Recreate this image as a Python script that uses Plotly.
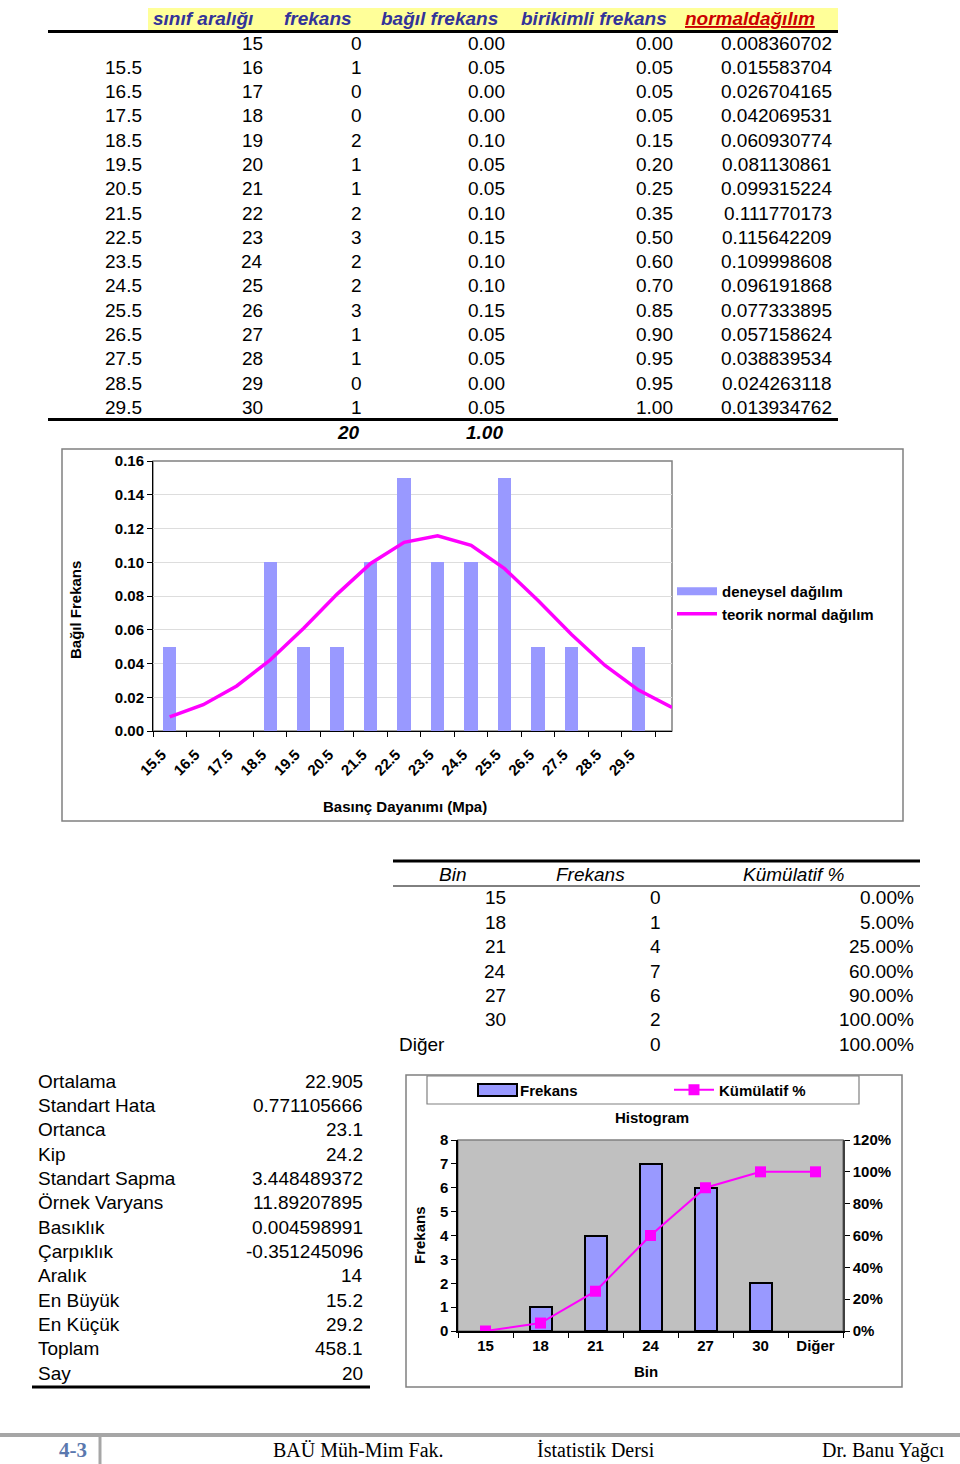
import plotly.graph_objects as go

# ---------------- data ----------------
sinif_araligi = ["", "15.5", "16.5", "17.5", "18.5", "19.5", "20.5", "21.5", "22.5",
                 "23.5", "24.5", "25.5", "26.5", "27.5", "28.5", "29.5"]
sinir = [15, 16, 17, 18, 19, 20, 21, 22, 23, 24, 25, 26, 27, 28, 29, 30]
frekans = [0, 1, 0, 0, 2, 1, 1, 2, 3, 2, 2, 3, 1, 1, 0, 1]
bagil_frekans = [0.00, 0.05, 0.00, 0.00, 0.10, 0.05, 0.05, 0.10, 0.15, 0.10, 0.10,
                 0.15, 0.05, 0.05, 0.00, 0.05]
birikimli_frekans = [0.00, 0.05, 0.05, 0.05, 0.15, 0.20, 0.25, 0.35, 0.50, 0.60, 0.70,
                     0.85, 0.90, 0.95, 0.95, 1.00]
normal_dagilim = [0.008360702, 0.015583704, 0.026704165, 0.042069531, 0.060930774,
                  0.081130861, 0.099315224, 0.111770173, 0.115642209, 0.109998608,
                  0.096191868, 0.077333895, 0.057158624, 0.038839534, 0.024263118,
                  0.013934762]
toplam_frekans = "20"
toplam_bagil = "1.00"

chart1_categories = sinif_araligi[1:] + [" "]

bins = ["15", "18", "21", "24", "27", "30", "Diğer"]
bin_frekans = [0, 1, 4, 7, 6, 2, 0]
kumulatif = [0.00, 0.05, 0.25, 0.60, 0.90, 1.00, 1.00]

stat_labels = ["Ortalama", "Standart Hata", "Ortanca", "Kip", "Standart Sapma",
               "Örnek Varyans", "Basıklık", "Çarpıklık", "Aralık", "En Büyük",
               "En Küçük", "Toplam", "Say"]
stat_values = ["22.905", "0.771105666", "23.1", "24.2", "3.448489372", "11.89207895",
               "0.004598991", "-0.351245096", "14", "15.2", "29.2", "458.1", "20"]

footer_texts = ["4-3", "BAÜ Müh-Mim Fak.", "İstatistik Dersi", "Dr. Banu Yağcı"]

# ---------------- helpers ----------------
W, H = 960, 1464
SANS = "Liberation Sans, Arial, sans-serif"
SERIF = "Liberation Serif, Times New Roman, serif"
BAR = "#9999FF"
MAG = "#FF00FF"


def X(px):
    return px / W


def Y(py):
    return 1 - py / H


annotations = []
shapes = []


def txt(x, y, s, anchor="right", size=19, color="black", bold=False, italic=False,
        family=SANS, angle=0):
    annotations.append(dict(
        x=X(x), y=Y(y), xref="paper", yref="paper", text=s, showarrow=False,
        xanchor=anchor, yanchor="middle", textangle=angle,
        font=dict(family=family, size=size, color=color,
                  weight="bold" if bold else "normal",
                  style="italic" if italic else "normal")))


def hline(x0, x1, y, width=1, color="black"):
    shapes.append(dict(type="line", xref="paper", yref="paper", x0=X(x0), x1=X(x1),
                       y0=Y(y), y1=Y(y), line=dict(color=color, width=width)))


def rect(x0, y0, x1, y1, line="#808080", fill=None, width=1.5, layer="below"):
    d = dict(type="rect", xref="paper", yref="paper", x0=X(x0), x1=X(x1),
             y0=Y(y1), y1=Y(y0), line=dict(color=line, width=width), layer=layer)
    if fill:
        d["fillcolor"] = fill
    shapes.append(d)


# ---------------- top table ----------------
rect(148, 8, 838, 30, line="rgba(0,0,0,0)", fill="#FFFF99", width=0)
NAVY = "#333399"
txt(203, 19, "sınıf aralığı", "center", 19, NAVY, True, True)
txt(318, 19, "frekans", "center", 19, NAVY, True, True)
txt(439, 19, "bağıl frekans", "center", 19, NAVY, True, True)
txt(594, 19, "birikimli frekans", "center", 19, NAVY, True, True)
txt(750, 19, "<u>normaldağılım</u>", "center", 19, "#CC0000", True, True)
hline(48, 838, 31.5, 3)

for i in range(len(sinir)):
    yy = 43 + i * 24.3
    if sinif_araligi[i]:
        txt(144, yy, sinif_araligi[i])
    txt(265, yy, str(sinir[i]))
    txt(364, yy, str(frekans[i]))
    txt(507, yy, f"{bagil_frekans[i]:.2f}")
    txt(675, yy, f"{birikimli_frekans[i]:.2f}")
    txt(834, yy, f"{normal_dagilim[i]:.9f}")
hline(48, 838, 419.5, 3)
txt(362, 432, toplam_frekans, bold=True, italic=True)
txt(505, 432, toplam_bagil, bold=True, italic=True)

# ---------------- chart 1 ----------------
rect(62, 449, 903, 821)
shapes.append(dict(type="rect", xref="x domain", yref="y domain", x0=0, x1=1, y0=0, y1=1,
                   line=dict(color="#808080", width=1.5), layer="below"))
txt(75, 610, "Bağıl Frekans", "center", 15, bold=True, angle=-90)
txt(405, 806, "Basınç Dayanımı (Mpa)", "center", 15, bold=True)

fig = go.Figure()
fig.add_trace(go.Bar(x=chart1_categories[:15], y=bagil_frekans[1:], name="deneysel dağılım",
                     marker=dict(color=BAR, line=dict(width=0)), width=0.4,
                     showlegend=False, xaxis="x", yaxis="y"))
# legend entry with a wide swatch for the bars
fig.add_trace(go.Scatter(x=[None], y=[None], name="deneysel dağılım", mode="lines",
                         line=dict(color=BAR, width=8), hoverinfo="skip",
                         xaxis="x", yaxis="y", legend="legend"))
fig.add_trace(go.Scatter(x=chart1_categories, y=normal_dagilim, name="teorik normal dağılım",
                         mode="lines", line=dict(color=MAG, width=3.5),
                         xaxis="x", yaxis="y", legend="legend"))

# ---------------- table 2 ----------------
hline(393, 920, 861, 3)
txt(452, 874, "Bin", "center", 19, italic=True)
txt(590, 874, "Frekans", "center", 19, italic=True)
txt(793, 874, "Kümülatif %", "center", 19, italic=True)
hline(393, 920, 886, 1)
for i in range(len(bins)):
    yy = 898 + i * 24.35
    if bins[i] == "Diğer":
        txt(397, yy, bins[i], "left")
    else:
        txt(508, yy, bins[i])
    txt(663, yy, str(bin_frekans[i]))
    txt(916, yy, f"{kumulatif[i] * 100:.2f}%")

# ---------------- stats table ----------------
for i in range(len(stat_labels)):
    yy = 1081 + i * 24.35
    txt(36, yy, stat_labels[i], "left")
    txt(365, yy, stat_values[i])
hline(32, 370, 1387, 3)

# ---------------- histogram chart ----------------
rect(406, 1075, 902, 1387)
rect(427, 1076, 859, 1104, width=1.2)
# wide bar swatch of the histogram legend
rect(478, 1084, 517, 1096, line="black", fill=BAR, width=2, layer="above")
shapes.append(dict(type="rect", xref="x2 domain", yref="y2 domain", x0=0, x1=1, y0=0, y1=1,
                   line=dict(color="#808080", width=1.5), fillcolor="#C0C0C0", layer="below"))
txt(652, 1117, "Histogram", "center", 15, bold=True)
txt(419, 1235, "Frekans", "center", 15, bold=True, angle=-90)
txt(646, 1371, "Bin", "center", 15, bold=True)

fig.add_trace(go.Bar(x=bins, y=bin_frekans, name="Frekans", width=0.4,
                     marker=dict(color=BAR, line=dict(color="black",
                                 width=[2 if v > 0 else 0 for v in bin_frekans])),
                     showlegend=False, xaxis="x2", yaxis="y2"))
fig.add_trace(go.Scatter(x=[None], y=[None], name="Frekans", mode="lines",
                         line=dict(color="rgba(0,0,0,0)", width=1), hoverinfo="skip",
                         xaxis="x2", yaxis="y2", legend="legend2"))
fig.add_trace(go.Scatter(x=bins, y=kumulatif, name="Kümülatif %", mode="lines+markers",
                         line=dict(color=MAG, width=2),
                         marker=dict(symbol="square", size=11, color=MAG),
                         xaxis="x2", yaxis="y3", legend="legend2"))

# ---------------- footer ----------------
hline(0, 960, 1435, 4, "#A6A6A6")
shapes.append(dict(type="line", xref="paper", yref="paper", x0=X(100), x1=X(100),
                   y0=Y(1437), y1=Y(1464), line=dict(color="#A6A6A6", width=3)))
txt(89, 1450, footer_texts[0], "right", 21, "#5A78AE", True, family=SERIF)
txt(358, 1450, footer_texts[1], "center", 20, family=SERIF)
txt(596, 1450, footer_texts[2], "center", 20, family=SERIF)
txt(947, 1450, footer_texts[3], "right", 20, family=SERIF)

tickfont = dict(family=SANS, size=15, color="black", weight="bold")
histfont = dict(family=SANS, size=15, color="black", weight="bold")
fig.update_layout(
    width=W, height=H, margin=dict(l=0, r=0, t=0, b=0, pad=0, autoexpand=False),
    paper_bgcolor="white", plot_bgcolor="white",
    annotations=annotations, shapes=shapes,
    bargap=0,
    xaxis=dict(domain=[X(153), X(672)], anchor="y", type="category",
               categoryorder="array", categoryarray=chart1_categories,
               tickson="boundaries", ticks="outside", ticklen=5, tickcolor="black",
               showline=True, linecolor="black", linewidth=1, tickangle=-45,
               ticklabelstandoff=8, ticklabelshift=-8, automargin=False,
               tickfont=tickfont, showgrid=False),
    yaxis=dict(domain=[Y(731), Y(461)], anchor="x", range=[0, 0.16], dtick=0.02,
               tickformat=".2f", ticks="outside", ticklen=5, tickcolor="black",
               showline=True, linecolor="black", linewidth=1, tickfont=tickfont,
               automargin=False,
               showgrid=True, gridcolor="#DDDDDD", zeroline=False),
    xaxis2=dict(domain=[X(458), X(843)], anchor="y2", type="category",
                categoryorder="array", categoryarray=bins,
                tickson="boundaries", ticks="outside", ticklen=5, tickcolor="black",
                showline=True, linecolor="black", linewidth=1.5, automargin=False,
                tickfont=histfont, showgrid=False),
    yaxis2=dict(domain=[Y(1331), Y(1140)], anchor="x2", range=[0, 8], dtick=1,
                ticks="outside", ticklen=5, tickcolor="black",
                showline=True, linecolor="black", linewidth=1.5, automargin=False,
                tickfont=histfont, showgrid=False, zeroline=False),
    yaxis3=dict(overlaying="y2", anchor="x2", side="right", range=[0, 1.2], dtick=0.2,
                tickformat=".0%", ticks="outside", ticklen=5, tickcolor="black",
                showline=True, linecolor="#404040", linewidth=1.5, automargin=False,
                tickfont=histfont, showgrid=False, zeroline=False),
    legend=dict(x=X(672), y=Y(575), xanchor="left", yanchor="top",
                bgcolor="rgba(0,0,0,0)", itemwidth=40,
                font=dict(family=SANS, size=15, color="black", weight="bold")),
    legend2=dict(x=X(470), y=Y(1090), xanchor="left", yanchor="middle",
                 orientation="h", bgcolor="rgba(0,0,0,0)", itemwidth=40,
                 entrywidth=144, entrywidthmode="pixels",
                 font=dict(family=SANS, size=15, color="black", weight="bold")),
)

fig.write_html("out.html", config={"displayModeBar": False},
               post_script="document.body.style.margin='0';"
                           "document.body.style.overflow='hidden';")
